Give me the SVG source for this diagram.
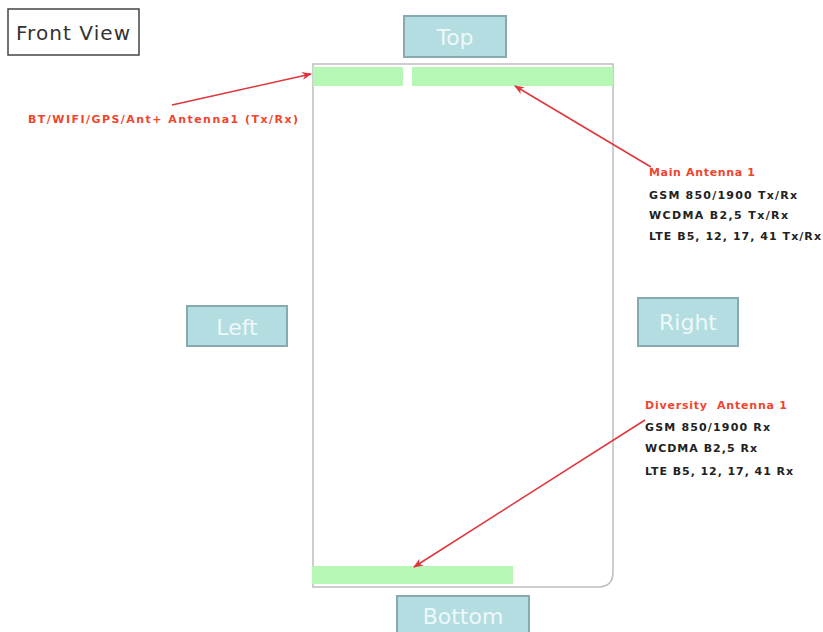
<svg xmlns="http://www.w3.org/2000/svg" width="823" height="632" viewBox="0 0 823 632">
<style>
.lbl{fill:#b3dde0;stroke:#86aab0;stroke-width:2}
.lt{font-family:"DejaVu Sans",Verdana,sans-serif;font-size:22px;fill:#eef8f9;text-anchor:middle}
.ant{fill:#b6f7b6}
.red{font-family:"DejaVu Sans",Verdana,sans-serif;font-size:11px;font-weight:bold;fill:#f0452e;white-space:pre}
.blk{font-family:"DejaVu Sans",Verdana,sans-serif;font-size:11px;font-weight:bold;fill:#222}
.arr{stroke:#e0353a;stroke-width:1.5;fill:none;marker-end:url(#ah)}
</style>
<defs>
<marker id="ah" markerWidth="10" markerHeight="8" refX="9" refY="4" orient="auto" markerUnits="userSpaceOnUse">
<path d="M0,0 L10,4 L0,8 L3,4 Z" fill="#e0353a"/>
</marker>
</defs>
<rect width="823" height="632" fill="#fff"/>
<g id="front-view">
<rect x="8" y="9" width="131" height="46" fill="#fff" stroke="#444" stroke-width="1.5"/>
<text x="73" y="40" text-anchor="middle" font-family="DejaVu Sans,sans-serif" font-size="20" fill="#333" textLength="114">Front View</text>
</g>
<g id="phone">
<path d="M313,64 H613 V572 Q613,587 598,587 H313 Z" fill="#fff" stroke="#bdbdbd" stroke-width="1.5"/>
<rect class="ant" x="313" y="67" width="90" height="19"/>
<rect class="ant" x="412" y="67" width="201" height="19"/>
<rect class="ant" x="312" y="566" width="201" height="18"/>
</g>
<g id="top"><rect class="lbl" x="404" y="16" width="102" height="41"/><text class="lt" x="455" y="45">Top</text></g>
<g id="left"><rect class="lbl" x="187" y="306" width="100" height="40"/><text class="lt" x="237" y="335">Left</text></g>
<g id="right"><rect class="lbl" x="638" y="298" width="100" height="48"/><text class="lt" x="688" y="330">Right</text></g>
<g id="bottom"><rect class="lbl" x="397" y="596" width="132" height="42"/><text class="lt" x="463" y="624">Bottom</text></g>
<g id="bt-label"><text class="red" x="28" y="123" textLength="270">BT/WIFI/GPS/Ant+ Antenna1 (Tx/Rx)</text></g>
<g id="main-antenna">
<text class="red" x="649" y="176" textLength="106">Main Antenna 1</text>
<text class="blk" x="649" y="199" textLength="148">GSM 850/1900 Tx/Rx</text>
<text class="blk" x="649" y="219" textLength="139">WCDMA B2,5 Tx/Rx</text>
<text class="blk" x="649" y="240" textLength="172">LTE B5, 12, 17, 41 Tx/Rx</text>
</g>
<g id="diversity-antenna">
<text class="red" x="645" y="409" textLength="142">Diversity  Antenna 1</text>
<text class="blk" x="645" y="431" textLength="125">GSM 850/1900 Rx</text>
<text class="blk" x="645" y="452" textLength="112">WCDMA B2,5 Rx</text>
<text class="blk" x="645" y="475" textLength="148">LTE B5, 12, 17, 41 Rx</text>
</g>
<g id="connectors">
<line class="arr" x1="172" y1="105" x2="311" y2="74"/>
<line class="arr" x1="651" y1="167" x2="515" y2="86"/>
<line class="arr" x1="645" y1="420" x2="414" y2="567"/>
</g>
</svg>
